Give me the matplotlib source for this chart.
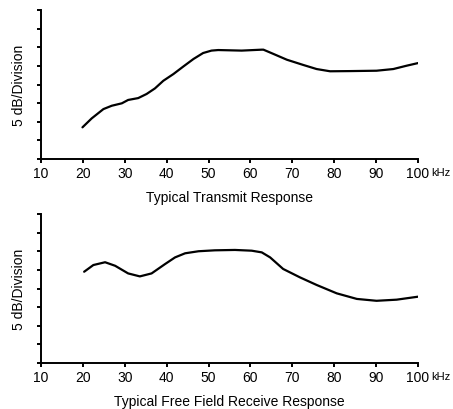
import matplotlib
matplotlib.use('Agg')
import matplotlib.pyplot as plt

# transmit response (kHz, divisions of 5 dB)
tx_freq = [19.9, 22.1, 24.9, 26.9, 29.3, 30.8, 33.2, 35.2, 37.2, 39.2, 41.6, 44.0, 46.4,
           48.7, 50.7, 52.3, 57.9, 62.7, 63.1, 65.5, 68.7, 72.6, 75.8, 79.0, 83.8, 90.1,
           94.1, 97.3, 100.0]
tx_level = [1.70, 2.18, 2.68, 2.86, 2.99, 3.17, 3.27, 3.49, 3.79, 4.20, 4.56, 4.97, 5.37,
            5.69, 5.82, 5.85, 5.82, 5.87, 5.87, 5.64, 5.33, 5.05, 4.83, 4.71, 4.72, 4.74,
            4.83, 5.01, 5.15]

# free field receive response
rx_freq = [20.3, 22.5, 25.3, 27.7, 30.8, 33.6, 36.4, 39.6, 42.0, 44.4, 47.6, 51.5, 56.3,
           60.3, 62.7, 64.7, 67.8, 71.8, 75.8, 80.6, 85.4, 90.1, 94.9, 100.0]
rx_level = [4.90, 5.26, 5.41, 5.22, 4.81, 4.65, 4.81, 5.31, 5.67, 5.89, 6.00, 6.05, 6.07,
            6.03, 5.94, 5.67, 5.05, 4.60, 4.19, 3.74, 3.44, 3.34, 3.40, 3.56]

xticks = [10, 20, 30, 40, 50, 60, 70, 80, 90, 100]
titles = ['Typical Transmit Response', 'Typical Free Field Receive Response']

plt.rcParams['font.family'] = 'Liberation Sans'

W, H = 453, 410
fig = plt.figure(figsize=(W / 100, H / 100), dpi=100)

# axes boxes in pixels: left, top, right, bottom
boxes = [(41, 11, 418, 160), (41, 215, 418, 364)]
series = [(tx_freq, tx_level), (rx_freq, rx_level)]

for (l, t, r, b), (fx, fy), title in zip(boxes, series, titles):
    ax = fig.add_axes([l / W, 1 - b / H, (r - l) / W, (b - t) / H])
    ax.plot(fx, fy, color='black', lw=1.6, solid_capstyle='round', solid_joinstyle='round')
    ax.set_xlim(10, 100)
    ax.set_ylim(0, 8)
    ax.set_xticks(xticks)
    ax.set_xticklabels([str(v) for v in xticks])
    ax.set_yticks(range(9))
    ax.set_yticklabels([])
    for s in ['top', 'right']:
        ax.spines[s].set_visible(False)
    for s in ['left', 'bottom']:
        ax.spines[s].set_linewidth(1.4)
    ax.tick_params(axis='both', direction='out', length=3, width=1.4, labelsize=10, pad=2)
    ax.set_ylabel('5 dB/Division', fontsize=10, labelpad=6)
    ax.text(1.036, -0.088, 'kHz', transform=ax.transAxes, fontsize=8, va='center', ha='left')
    ax.set_xlabel(title, fontsize=10, labelpad=7)

fig.savefig('out.png', dpi=100)
